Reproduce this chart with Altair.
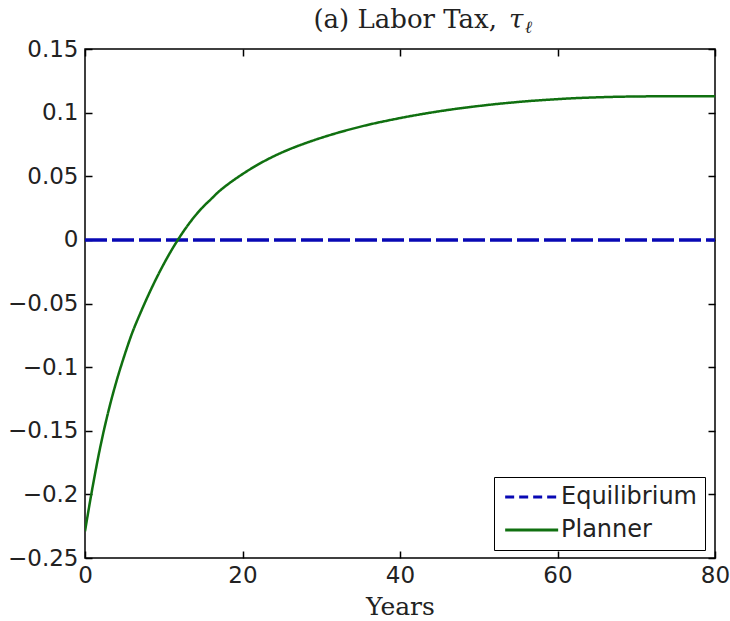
import altair as alt
import pandas as pd

# ---- data ----
years = [0, 1, 2, 3, 4, 5, 6, 7, 8, 9, 10, 11, 12, 13, 14, 15, 16, 17, 18, 19,
         20, 22, 24, 26, 28, 30, 32, 34, 36, 38, 40, 42, 44, 46, 48, 50, 52,
         54, 56, 58, 60, 62, 64, 66, 68, 70, 72, 76, 80]
planner = [-0.229, -0.193, -0.161, -0.134, -0.111, -0.091, -0.073, -0.058,
           -0.044, -0.031, -0.019, -0.008, 0.002, 0.011, 0.019, 0.026, 0.032,
           0.038, 0.043, 0.0475, 0.0517, 0.0593, 0.0658, 0.0713, 0.0760,
           0.0802, 0.0840, 0.0874, 0.0905, 0.0932, 0.0957, 0.0980, 0.1001,
           0.1020, 0.1037, 0.1052, 0.1066, 0.1078, 0.1089, 0.1098, 0.1106,
           0.1113, 0.1118, 0.1122, 0.1125, 0.1127, 0.1128, 0.1129, 0.1129]
eq_years = [0, 80]
eq_values = [0.0, 0.0]
series_names = ["Equilibrium", "Planner"]
x_ticks = [0, 20, 40, 60, 80]
y_ticks = [-0.25, -0.2, -0.15, -0.1, -0.05, 0, 0.05, 0.1, 0.15]
title_main = "(a) Labor Tax,"
title_symbol = "τ"
title_sub = "ℓ"

df = pd.DataFrame({
    "year": eq_years + years,
    "value": eq_values + planner,
    "series": ["Equilibrium"] * len(eq_years) + ["Planner"] * len(years),
})

x_scale = alt.Scale(domain=[0, 80], nice=False, zero=False)
y_scale = alt.Scale(domain=[-0.25, 0.15], nice=False, zero=False)
color_scale = alt.Scale(domain=series_names, range=["#0808b4", "#107010"])

tick_common = dict(domain=False, grid=False, ticks=True, tickSize=7,
                   tickColor="black", tickWidth=1.5, offset=-7)
label_common = dict(labelFont="DejaVu Sans", labelFontSize=23, labelColor="#222")

legend = alt.Legend(
    title=None, orient="none", legendX=409, legendY=428,
    direction="vertical", strokeColor="black", fillColor="white",
    padding=8, rowPadding=9, symbolType="M-1,0H5", symbolSize=312,
    symbolStrokeWidth=3, labelOffset=35, labelFont="DejaVu Sans",
    labelFontSize=24, labelColor="#222", labelLimit=300)

is_eq = "datum.series == 'Equilibrium'"

main = alt.Chart(df).mark_line(interpolate="monotone", clip=True).encode(
    x=alt.X("year:Q", scale=x_scale,
            axis=alt.Axis(values=x_ticks, title="Years", titleFont="DejaVu Serif",
                          titleFontSize=25, titleFontWeight="normal", titleColor="#222",
                          titleBaseline="middle", titleY=55, labelPadding=6,
                          labelFlush=False, **tick_common, **label_common)),
    y=alt.Y("value:Q", scale=y_scale,
            axis=alt.Axis(values=y_ticks, format=".2~f", title=None, labelPadding=7,
                          labelFlush=False, **tick_common, **label_common)),
    color=alt.Color("series:N", scale=color_scale, legend=legend),
    detail="series:N",
    strokeDash=alt.condition(is_eq, alt.value([22, 5]), alt.value([1, 0])),
    strokeWidth=alt.condition(is_eq, alt.value(3.5), alt.value(2.5)),
)

# legend-only layer (no rows drawn) giving the legend its dash styles
legend_layer = alt.Chart(df).transform_filter("false").mark_line().encode(
    x=alt.X("year:Q", scale=x_scale, axis=None),
    y=alt.Y("value:Q", scale=y_scale, axis=None),
    color=alt.Color("series:N", scale=color_scale, legend=legend),
    strokeDash=alt.StrokeDash("series:N",
                              scale=alt.Scale(domain=series_names, range=[[9, 5], [1, 0]]),
                              legend=legend),
)

mirror = alt.Chart(df).mark_line(opacity=0).encode(
    x=alt.X("year:Q", scale=x_scale,
            axis=alt.Axis(orient="top", values=x_ticks, labels=False, title=None, **tick_common)),
    y=alt.Y("value:Q", scale=y_scale,
            axis=alt.Axis(orient="right", values=y_ticks, labels=False, title=None, **tick_common)),
)

# title, with the subscripted symbol
title_df = pd.DataFrame({"t": [title_main]})
sym_df = pd.DataFrame({"t": [title_symbol]})
sub_df = pd.DataFrame({"t": [title_sub]})
title_a = alt.Chart(title_df).mark_text(
    font="DejaVu Serif", fontSize=26, color="#222", align="right",
    baseline="alphabetic").encode(text="t:N", x=alt.value(412), y=alt.value(-21))
title_b = alt.Chart(sym_df).mark_text(
    font="DejaVu Serif", fontSize=26, fontStyle="italic", color="#222", align="left",
    baseline="alphabetic").encode(text="t:N", x=alt.value(424), y=alt.value(-21))
title_c = alt.Chart(sub_df).mark_text(
    font="DejaVu Serif", fontSize=17, fontStyle="italic", color="#222", align="left",
    baseline="alphabetic").encode(text="t:N", x=alt.value(440), y=alt.value(-16))

chart = alt.layer(main, legend_layer, mirror, title_a, title_b, title_c).resolve_axis(
    x="independent", y="independent").properties(
    width=630, height=509,
    autosize="none",
    padding={"left": 85, "top": 49, "right": 15, "bottom": 63},
    background="white",
).configure_view(stroke="black", strokeWidth=1.5)

chart.save("out.html", embed_options={"renderer": "svg", "actions": False})
